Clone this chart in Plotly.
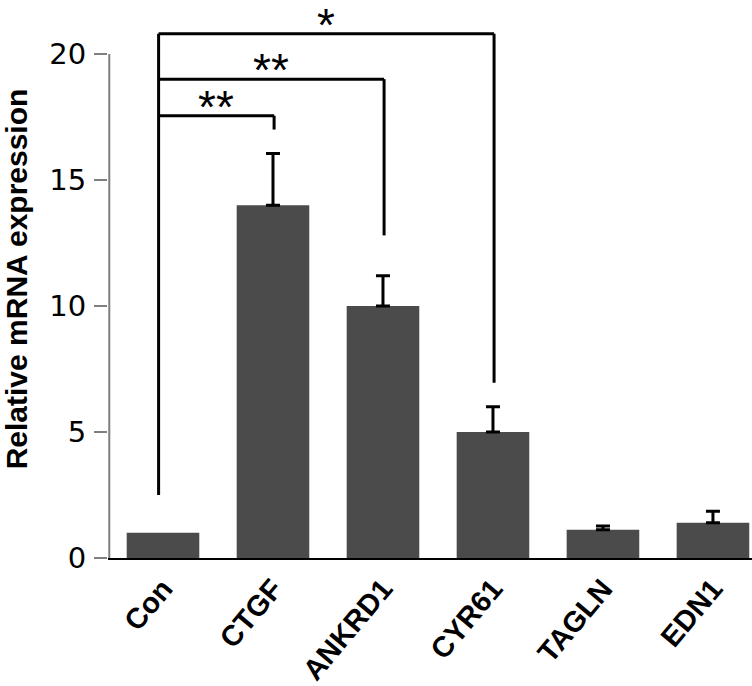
import plotly.graph_objects as go

# ============================================
# data
# ============================================
genes = ["Con", "CTGF", "ANKRD1", "CYR61", "TAGLN", "EDN1"]
expression = [1.0, 14.0, 10.0, 5.0, 1.12, 1.4]
err_up = [None, 2.05, 1.2, 1.0, 0.15, 0.45]  # Con has no error bar

y_ticks = [0, 5, 10, 15, 20]

# significance brackets: Con vs target
sig_targets = ["CTGF", "ANKRD1", "CYR61"]
sig_levels = [17.55, 19.0, 20.8]
sig_drop_to = [17.0, 12.8, 6.95]
sig_marks = ["**", "**", "*"]
con_stem_bottom = 2.5

BAR_COLOR = "#4b4b4b"
AXIS_GREY = "#7f7f7f"
LINE = dict(color="black", width=3)

xpos = list(range(len(genes)))

fig = go.Figure()

fig.add_trace(go.Bar(
    x=xpos,
    y=expression,
    marker=dict(color=BAR_COLOR, line=dict(width=0)),
    width=0.66,
))

# upper error bars only where an error exists
has_err = [i for i, e in enumerate(err_up) if e is not None]
fig.add_trace(go.Scatter(
    x=[xpos[i] for i in has_err],
    y=[expression[i] for i in has_err],
    mode="markers",
    marker=dict(size=1, opacity=0),
    hoverinfo="skip",
    error_y=dict(type="data", symmetric=False,
                 array=[err_up[i] for i in has_err],
                 arrayminus=[0] * len(has_err),
                 color="black", thickness=3, width=7),
))

# brackets
con_x = genes.index("Con") - 0.04
fig.add_shape(type="line", x0=con_x, x1=con_x, y0=con_stem_bottom,
              y1=max(sig_levels), line=LINE)
for tgt, lvl, drop, mark in zip(sig_targets, sig_levels, sig_drop_to, sig_marks):
    xi = genes.index(tgt) + 0.01
    fig.add_shape(type="line", x0=con_x, x1=xi, y0=lvl, y1=lvl, line=LINE)
    fig.add_shape(type="line", x0=xi, x1=xi, y0=lvl, y1=drop, line=LINE)
    fig.add_annotation(x=(con_x + xi) / 2, y=lvl, text=mark, showarrow=False,
                       yanchor="bottom", yshift=-19,
                       font=dict(family="Arial", size=46, color="black"))

# y axis line only from 0 to 20
fig.add_shape(type="line", xref="paper", x0=0.002, x1=0.002, y0=0, y1=max(y_ticks),
              line=dict(color=AXIS_GREY, width=2))

fig.update_layout(
    width=752, height=686,
    margin=dict(l=108, r=0, t=0, b=128),
    paper_bgcolor="white",
    plot_bgcolor="white",
    showlegend=False,
)

fig.update_xaxes(
    range=[-0.5, 5.355],
    tickvals=xpos,
    ticktext=genes,
    tickangle=-50,
    tickfont=dict(family="Arial", size=29, color="black", weight="bold"),
    showline=True, linecolor="black", linewidth=2,
    showgrid=False, zeroline=False, ticks="",
)

fig.update_yaxes(
    range=[0, 22.14],
    tickvals=y_ticks,
    ticks="outside", ticklen=13, tickwidth=2, tickcolor=AXIS_GREY,
    ticklabelstandoff=2,
    tickfont=dict(family="DejaVu Sans", size=29, color="black"),
    showline=False, showgrid=False, zeroline=False,
    title=dict(text="Relative mRNA expression",
               font=dict(family="Arial", size=30, color="black", weight="bold"),
               standoff=23),
)

fig.write_html("out.html", config={"displayModeBar": False},
               post_script="document.body.style.margin='0';")
